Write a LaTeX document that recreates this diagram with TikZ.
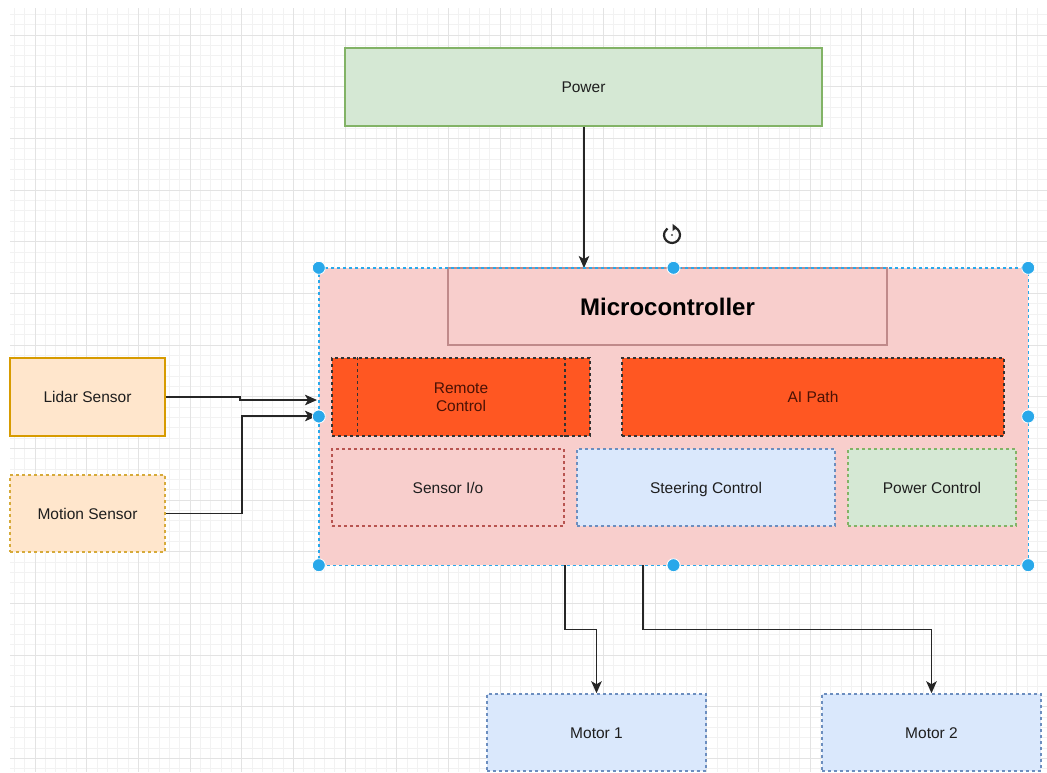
\documentclass[tikz,border=0pt]{standalone}
\usepackage{fontspec}
\setmainfont{Liberation Sans}
\usetikzlibrary{arrows.meta}

\definecolor{gridminor}{HTML}{F2F2F2}
\definecolor{gridmajor}{HTML}{E3E3E3}
\definecolor{greenfill}{HTML}{D5E8D4}
\definecolor{greenline}{HTML}{82B366}
\definecolor{redfill}{HTML}{F8CECC}
\definecolor{redline}{HTML}{B85450}
\definecolor{titleline}{HTML}{C08A8A}
\definecolor{bluefill}{HTML}{DAE8FC}
\definecolor{blueline}{HTML}{6C8EBF}
\definecolor{orangefill}{HTML}{FFE6CC}
\definecolor{orangeline}{HTML}{D79B00}
\definecolor{yellowline}{HTML}{D6AA3A}
\definecolor{hotfill}{HTML}{FF5722}
\definecolor{hottext}{HTML}{4A1205}
\definecolor{selblue}{HTML}{29A8EA}
\definecolor{ink}{HTML}{1E1E1E}

\tikzset{
  box/.style={draw, inner sep=0pt, line width=1.5pt, text=ink,
    font=\fontsize{15.5}{18}\selectfont, text height=11.4pt, text depth=0.4pt},
  dashbox/.style={box, dash pattern=on 3pt off 3pt},
  hotbox/.style={dashbox, fill=hotfill, draw=black!80, text=hottext},
  arr/.style={draw=black!85, line width=1.8pt,
    -{Stealth[length=12pt,width=10.5pt,inset=3pt]}},
  handle/.style={circle, fill=selblue, draw=white, line width=0.8pt,
    minimum size=13pt, inner sep=0pt},
}

\begin{document}
\begin{tikzpicture}[x=1pt, y=-1pt]
\useasboundingbox (0,0) rectangle (1047,772);
\fill[white] (0,0) rectangle (1047,772);

% background grid
\begin{scope}
\clip (10,8) rectangle (1047,772);
\foreach \i in {-2,...,98} {
  \draw[gridminor, line width=0.8pt] ({35+10.3333*\i},8) -- ++(0,764);
}
\foreach \i in {-3,...,74} {
  \draw[gridminor, line width=0.8pt] (10,{35+10.3333*\i}) -- ++(1037,0);
}
\foreach \i in {0,...,19} {
  \draw[gridmajor, line width=1pt] ({35+51.6667*\i},8) -- ++(0,764);
}
\foreach \i in {-1,...,14} {
  \draw[gridmajor, line width=1pt] (10,{35+51.6667*\i}) -- ++(1037,0);
}
\end{scope}

% power supply
\node[box, fill=greenfill, draw=greenline, minimum width=477pt, minimum height=78pt]
  (power) at (583.5,87) {Power};

% microcontroller container
\node[fill=redfill, rounded corners=6pt, minimum width=709pt, minimum height=297pt, inner sep=0pt]
  (mc) at (673.5,416.5) {};
\node[draw=titleline, fill=redfill, line width=1.5pt, inner sep=0pt,
  minimum width=439pt, minimum height=77pt, text=black,
  font=\fontsize{24}{28}\bfseries\selectfont]
  (mctitle) at (667.5,306.5) {Microcontroller};

% functional blocks inside
\node[hotbox, text height=, text depth=, align=center, minimum width=258pt, minimum height=78pt]
  (remote) at (461,397) {Remote\\Control};
\draw[black!80, line width=1.5pt, dash pattern=on 3pt off 3pt]
  ([xshift=26pt]remote.north west) -- ([xshift=26pt]remote.south west)
  ([xshift=-26pt]remote.north east) -- ([xshift=-26pt]remote.south east);
\node[hotbox, minimum width=382pt, minimum height=78pt] (aipath) at (813,397) {AI Path};
\node[dashbox, fill=redfill, draw=redline, minimum width=232pt, minimum height=77pt]
  (sensorio) at (448,487.5) {Sensor I/o};
\node[dashbox, fill=bluefill, draw=blueline, minimum width=258pt, minimum height=77pt]
  (steer) at (706,487.5) {Steering Control};
\node[dashbox, fill=greenfill, draw=greenline, minimum width=168pt, minimum height=77pt]
  (pwrctl) at (932,487.5) {Power Control};

% sensors
\node[box, fill=orangefill, draw=orangeline, minimum width=155pt, minimum height=78pt]
  (lidar) at (87.5,397) {Lidar Sensor};
\node[dashbox, fill=orangefill, draw=yellowline, minimum width=155pt, minimum height=77pt]
  (motion) at (87.5,513.5) {Motion Sensor};

% motors
\node[dashbox, fill=bluefill, draw=blueline, minimum width=219pt, minimum height=77pt]
  (motor1) at (596.5,732.5) {Motor 1};
\node[dashbox, fill=bluefill, draw=blueline, minimum width=219pt, minimum height=77pt]
  (motor2) at (931.5,732.5) {Motor 2};

% connection points on the container
\coordinate (inL) at (317,400);
\coordinate (inM) at (317,416);
\coordinate (topIn) at (584,268);
\coordinate (out1) at (565,565);
\coordinate (out2) at (643,565);

% connectors
\draw[arr] (power.south -| topIn) -- (topIn);
\draw[arr] (lidar.east) -- (240,397) -- (240,400) -- (inL);
\draw[arr] (motion.east) -- (242,513.5) -- (242,416) -- (inM);
\draw[arr] (out1) -- (565,629.5) -- (motor1.north |- 0,629.5) -- (motor1.north);
\draw[arr] (out2) -- (643,629.5) -- (motor2.north |- 0,629.5) -- (motor2.north);

% selection frame with handles
\draw[selblue, line width=1.4pt, dash pattern=on 3pt off 3pt]
  (mc.north west) rectangle (mc.south east);
\foreach \a in {north west, north, north east, west, east, south west, south, south east}
  \node[handle] at (mc.\a) {};

% rotate handle
\draw[black!85, line width=2.2pt] (672,235) ++(70:8pt) arc[start angle=70, end angle=-235, radius=8pt];
\fill[black!85] (672,235) ++(70:8pt) ++(-2pt,-3.5pt) -- ++(4.5pt,3.5pt) -- ++(-4.5pt,3.5pt) -- cycle;
\fill[black!70] (672,235) circle (1.1pt);
\end{tikzpicture}
\end{document}
